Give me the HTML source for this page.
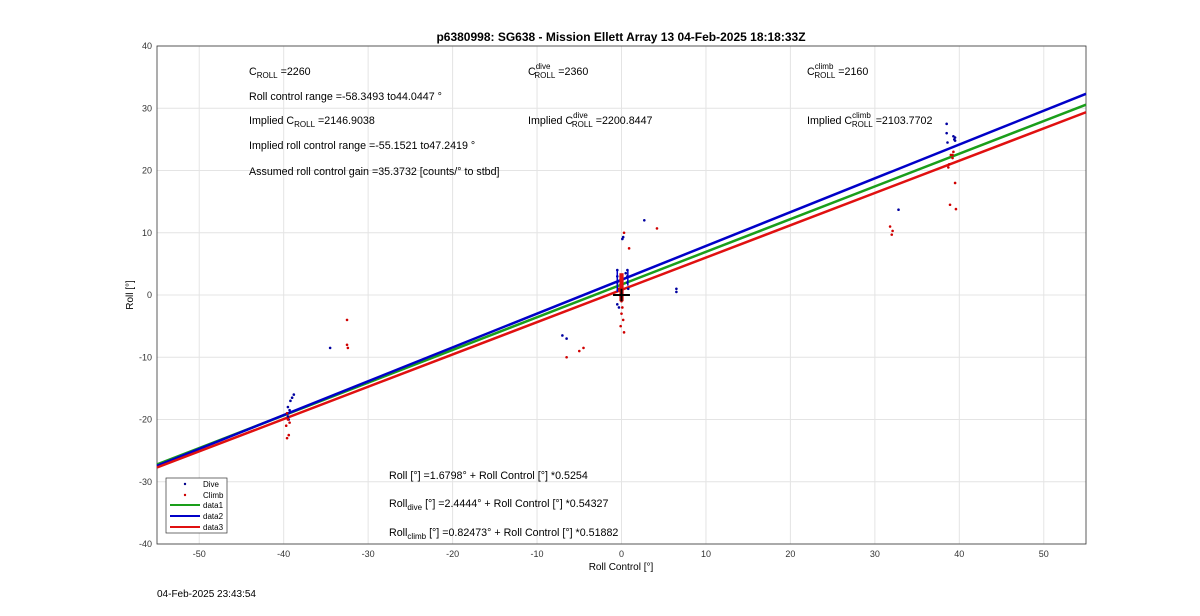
<!DOCTYPE html>
<html><head><meta charset="utf-8"><style>
body{margin:0;background:#fff;font-family:"Liberation Sans",sans-serif}
svg text{font-family:"Liberation Sans",sans-serif}
</style></head><body>
<svg width="1200" height="611" xmlns="http://www.w3.org/2000/svg">
<g id="grid"></g>
<g id="axes"></g>
<g id="marks"></g>
<text x="621" y="41" text-anchor="middle" font-size="12" font-weight="bold">p6380998: SG638 - Mission Ellett Array 13 04-Feb-2025 18:18:33Z</text>
<text x="621" y="570" text-anchor="middle" font-size="10">Roll Control [°]</text>
<text x="133" y="295" text-anchor="middle" font-size="10" transform="rotate(-90 133 295)">Roll [°]</text>
<g font-size="10.7">
<text x="249" y="75">C<tspan font-size="8" dy="3">ROLL</tspan><tspan dy="-3"> =2260</tspan></text>
<text x="249" y="100">Roll control range =-58.3493 to44.0447 °</text>
<text x="249" y="124">Implied C<tspan font-size="8" dy="3">ROLL</tspan><tspan dy="-3"> =2146.9038</tspan></text>
<text x="249" y="149">Implied roll control range =-55.1521 to47.2419 °</text>
<text x="249" y="175">Assumed roll control gain =35.3732 [counts/° to stbd]</text>
<text x="528" y="75">C<tspan font-size="8" dy="-6">dive</tspan><tspan font-size="8" dx="-16" dy="9">ROLL</tspan><tspan dy="-3"> =2360</tspan></text>
<text x="528" y="124">Implied C<tspan font-size="8" dy="-6">dive</tspan><tspan font-size="8" dx="-16" dy="9">ROLL</tspan><tspan dy="-3"> =2200.8447</tspan></text>
<text x="807" y="75">C<tspan font-size="8" dy="-6">climb</tspan><tspan font-size="8" dx="-19" dy="9">ROLL</tspan><tspan dy="-3"> =2160</tspan></text>
<text x="807" y="124">Implied C<tspan font-size="8" dy="-6">climb</tspan><tspan font-size="8" dx="-19" dy="9">ROLL</tspan><tspan dy="-3"> =2103.7702</tspan></text>
<text x="389" y="479">Roll [°] =1.6798° + Roll Control [°] *0.5254</text>
<text x="389" y="507">Roll<tspan font-size="8" dy="3">dive</tspan><tspan dy="-3"> [°] =2.4444° + Roll Control [°] *0.54327</tspan></text>
<text x="389" y="536">Roll<tspan font-size="8" dy="3">climb</tspan><tspan dy="-3"> [°] =0.82473° + Roll Control [°] *0.51882</tspan></text>
</g>
<g>
<rect x="166" y="478" width="61" height="55" fill="#fff" stroke="#333" stroke-width="0.7"/>
<circle cx="185" cy="484" r="1.2" fill="#00008b"/><text x="203" y="487" font-size="8">Dive</text>
<circle cx="185" cy="495" r="1.2" fill="#c00"/><text x="203" y="498" font-size="8">Climb</text>
<line x1="170" y1="505" x2="200" y2="505" stroke="#1a9e1a" stroke-width="2"/><text x="203" y="508" font-size="8">data1</text>
<line x1="170" y1="516" x2="200" y2="516" stroke="#0000c8" stroke-width="2"/><text x="203" y="519" font-size="8">data2</text>
<line x1="170" y1="527" x2="200" y2="527" stroke="#e01010" stroke-width="2"/><text x="203" y="530" font-size="8">data3</text>
</g>
<text x="157" y="597" font-size="10">04-Feb-2025 23:43:54</text>
</svg>
<script>
const xTicks=[-50,-40,-30,-20,-10,0,10,20,30,40,50];
const yTicks=[-40,-30,-20,-10,0,10,20,30,40];
const fitIntercepts=[1.6798,2.4444,0.82473];
const fitSlopes=[0.5254,0.54327,0.51882];
const fitColors=['#1a9e1a','#0000c8','#e01010'];
const diveX=[-39.5,-39.6,-39.4,-39.3,-39.5,-39.2,-39,-38.8,-34.5,-7,-6.5,-0.5,-0.5,-0.5,-0.5,-0.3,-0.3,0.2,0.1,0,0.5,0.7,0.7,0.7,0.8,2.7,6.5,6.5,32.8,38.5,38.5,38.6,39.3,39.4,39.5,39.5,-0.1,0];
const diveY=[-18,-19,-20,-18.5,-19.5,-17,-16.5,-16,-8.5,-6.5,-7,2,3,4,-1.5,-2,1,9.3,9,2.5,3.5,4,3,2,1,12,0.5,1,13.7,27.5,26,24.5,25.5,25,25.3,24.8,3,0.5];
const climbX=[-39.6,-39.5,-39.7,-39.4,-39.3,-39.6,-32.5,-32.5,-32.4,-6.5,-5,-4.5,-0.3,-0.2,0,0.1,0,0.2,-0.1,0.3,0,0.9,0.3,4.2,31.8,32.1,32,38.7,38.8,38.9,39.2,39.3,39.5,39.6,39,39.2];
const climbY=[-19,-20,-21,-22.5,-20.5,-23,-4,-8,-8.5,-10,-9,-8.5,1,0,-1,-2,-3,-4,-5,-6,2,7.5,10,10.7,11,10.3,9.7,20.5,21,14.5,22,23,18,13.8,22.5,22.5];
const X0=-55,X1=55,Y0=-40,Y1=40,L=157,R=1086,T=46,B=544;
const sx=v=>L+(v-X0)/(X1-X0)*(R-L);
const sy=v=>B-(v-Y0)/(Y1-Y0)*(B-T);
const NS='http://www.w3.org/2000/svg';
function mk(tag,attrs,parent){const e=document.createElementNS(NS,tag);for(const k in attrs)e.setAttribute(k,attrs[k]);parent.appendChild(e);return e;}
const grid=document.getElementById('grid'),axes=document.getElementById('axes'),marks=document.getElementById('marks');
xTicks.forEach(t=>{
 const g=mk('line',{x1:sx(t),x2:sx(t),y1:T,y2:B,stroke:'#e4e4e4','stroke-width':1},grid);
 
 
 const tx=mk('text',{x:sx(t),y:B+13,'text-anchor':'middle','font-size':9,fill:'#333'},axes);
 tx.textContent=t;
 
 
});
yTicks.forEach(t=>{
 const g=mk('line',{x1:L,x2:R,y1:sy(t),y2:sy(t),stroke:'#e4e4e4','stroke-width':1},grid);
 
 
 const tx=mk('text',{x:L-5,y:sy(t)+3,'text-anchor':'end','font-size':9,fill:'#333'},axes);
 tx.textContent=t;
 
 
});
const frame=mk('rect',{x:L,y:T,width:R-L,height:B-T,fill:'none',stroke:'#333','stroke-width':0.8},axes);


fitSlopes.forEach((m,i)=>{
 const b=fitIntercepts[i];
 const ln=mk('line',{x1:sx(X0),y1:sy(b+m*X0),x2:sx(X1),y2:sy(b+m*X1),stroke:fitColors[i],'stroke-width':2.5},marks);
 
 
});
diveX.forEach((x,i)=>{
 const c=mk('circle',{cx:sx(x),cy:sy(diveY[i]),r:1.3,fill:'#0000a0'},marks);
 
 
});
climbX.forEach((x,i)=>{
 const c=mk('circle',{cx:sx(x),cy:sy(climbY[i]),r:1.3,fill:'#d00000'},marks);
 
 
});
const dv=mk('path',{d:`M${sx(-0.5)} ${sy(4)}V${sy(0.5)}M${sx(0.75)} ${sy(4)}V${sy(1.5)}`,stroke:'#0000c8','stroke-width':1.5},marks);


const cl=mk('rect',{x:sx(-0.25),y:sy(3.5),width:sx(0.25)-sx(-0.25),height:sy(-1)-sy(3.5),fill:'#e01010'},marks);


const cr=mk('path',{d:`M${sx(-1)} ${sy(0)}H${sx(1)}M${sx(0)} ${sy(-1)}V${sy(1)}`,stroke:'#000','stroke-width':2},marks);


</script>
</body></html>
